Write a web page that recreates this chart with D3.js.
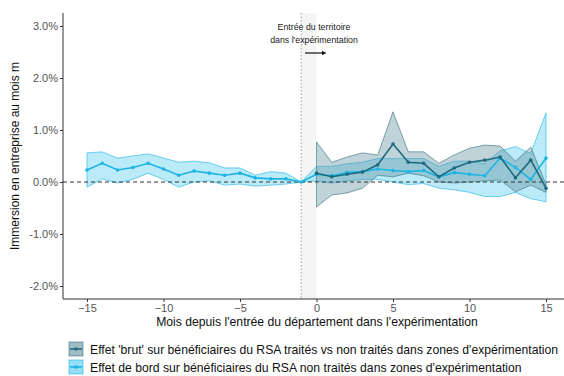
<!DOCTYPE html>
<html><head><meta charset="utf-8">
<script src="https://cdn.jsdelivr.net/npm/d3@7"></script>
<style>body{margin:0;background:#fff}svg{display:block}text{font-family:"Liberation Sans",Arial,sans-serif}</style>
</head><body><svg id="c" width="564" height="376"></svg>
<script>
const bordMonths = d3.range(-15, 16);
const bordValues = [0.23,0.36,0.23,0.28,0.36,0.25,0.13,0.21,0.17,0.13,0.17,0.08,0.06,0.06,0,
  0.15,0.12,0.18,0.2,0.25,0.22,0.2,0.22,0.1,0.18,0.15,0.12,0.46,0.28,0.05,0.46];
const bordUpper = [0.56,0.58,0.46,0.5,0.54,0.46,0.38,0.4,0.37,0.27,0.27,0.13,0.2,0.17,0,
  0.3,0.3,0.35,0.38,0.45,0.45,0.45,0.45,0.3,0.4,0.4,0.35,0.6,0.68,0.55,1.33];
const bordLower = [-0.1,0.06,-0.02,0.05,0.17,0.05,-0.1,0.0,0.02,-0.06,-0.04,-0.08,-0.06,-0.04,0,
  0.02,-0.02,0.02,0.05,0.05,0.0,-0.05,-0.03,-0.12,-0.15,-0.2,-0.28,-0.28,-0.2,-0.32,-0.38];

const brutMonths = d3.range(0, 16);
const brutValues = [0.17,0.1,0.15,0.19,0.33,0.73,0.38,0.36,0.1,0.27,0.38,0.42,0.48,0.08,0.42,-0.12];
const brutUpper = [0.77,0.38,0.48,0.56,0.52,1.35,0.58,0.58,0.36,0.52,0.65,0.71,0.69,0.4,0.67,-0.05];
const brutLower = [-0.48,-0.25,-0.21,-0.12,0.13,0.1,0.17,0.12,0.0,-0.02,0.0,0.02,0.04,-0.19,-0.06,-0.2];

const xTicks = [-15,-10,-5,0,5,10,15];
const yTicks = [-2,-1,0,1,2,3];
const legendLabels = ["Effet 'brut' sur bénéficiaires du RSA traités vs non traités dans zones d'expérimentation",
  "Effet de bord sur bénéficiaires du RSA non traités dans zones d'expérimentation"];

const svg = d3.select("#c");
const L = 63, B = 299, T = 13;
const x = d3.scaleLinear().domain([-16.5, 16.5]).range([64, 569]);
const y = d3.scaleLinear().domain([-2.25, 3.25]).range([B, T]);

// shaded entry band
svg.append("rect").attr("x", x(-1)).attr("y", T).attr("width", x(0) - x(-1)).attr("height", B - T)
  .attr("fill", "#f1f1f1").attr("opacity", 0.7);
// vertical dotted line
svg.append("line").attr("x1", x(-1)).attr("x2", x(-1)).attr("y1", T).attr("y2", B)
  .attr("stroke", "#888").attr("stroke-width", 0.8).attr("stroke-dasharray", "1.5,2");

const series = [
  {m: bordMonths, v: bordValues, u: bordUpper, l: bordLower, line: "#1cb4e2", fill: "#3cc3ee", fo: 0.35, edge: "#22b8e6"},
  {m: brutMonths, v: brutValues, u: brutUpper, l: brutLower, line: "#1d6a7e", fill: "#5a8c98", fo: 0.38, edge: "#3d7584"}
];
const area = d3.area().x(d => x(d.m)).y0(d => y(d.l)).y1(d => y(d.u));
const line = d3.line().x(d => x(d.m)).y(d => y(d.v));
series.forEach(s => {
  const data = s.m.map((m, i) => ({m, v: s.v[i], u: s.u[i], l: s.l[i]}));
  s.data = data;
  svg.append("path").datum(data).attr("d", area).attr("fill", s.fill).attr("fill-opacity", s.fo)
    .attr("stroke", s.edge).attr("stroke-width", 0.8).attr("stroke-opacity", 0.8);
});
// zero line
svg.append("line").attr("x1", L).attr("x2", 564).attr("y1", y(0)).attr("y2", y(0))
  .attr("stroke", "#333").attr("stroke-width", 1).attr("stroke-dasharray", "4,3");
series.forEach(s => {
  svg.append("path").datum(s.data).attr("d", line).attr("fill", "none").attr("stroke", s.line).attr("stroke-width", 1.6);
  svg.selectAll(null).data(s.data).enter().append("circle")
    .attr("cx", d => x(d.m)).attr("cy", d => y(d.v)).attr("r", 1.8).attr("fill", s.line);
});

// axes
const xa = svg.append("g").attr("transform", `translate(0,${B})`)
  .call(d3.axisBottom(x).tickValues(xTicks).tickSize(3).tickPadding(2).tickFormat(d3.format("d")));
const ya = svg.append("g").attr("transform", `translate(${L},0)`)
  .call(d3.axisLeft(y).tickValues(yTicks).tickSize(3).tickPadding(2).tickFormat(d => d.toFixed(1) + "%"));
[xa, ya].forEach(g => {
  g.select(".domain").attr("stroke", "#333").attr("stroke-width", 1);
  g.selectAll(".tick line").attr("stroke", "#333");
  g.selectAll(".tick text").attr("fill", "#555").attr("font-size", 11);
});
xa.select(".domain").attr("d", `M${L},0H564`);
ya.select(".domain").attr("d", `M0,${T}V${B}`);

svg.append("text").attr("x", 317).attr("y", 326).attr("text-anchor", "middle").attr("font-size", 12.2).attr("fill", "#111")
  .text("Mois depuis l'entrée du département dans l'expérimentation");
svg.append("text").attr("transform", "translate(19,156) rotate(-90)").attr("text-anchor", "middle")
  .attr("font-size", 12).attr("fill", "#111").text("Immersion en entreprise au mois m");

// annotation
svg.append("text").attr("x", 314).attr("y", 30).attr("text-anchor", "middle").attr("font-size", 8.8).attr("fill", "#222").text("Entrée du territoire");
svg.append("text").attr("x", 314).attr("y", 43).attr("text-anchor", "middle").attr("font-size", 8.8).attr("fill", "#222").text("dans l'expérimentation");
svg.append("defs").append("marker").attr("id", "ar").attr("viewBox", "0 0 10 10").attr("refX", 5).attr("refY", 5)
  .attr("markerWidth", 4).attr("markerHeight", 4).attr("orient", "auto")
  .append("path").attr("d", "M0,0L10,5L0,10z").attr("fill", "#111");
svg.append("line").attr("x1", 305).attr("x2", 324).attr("y1", 53).attr("y2", 53).attr("stroke", "#111").attr("stroke-width", 1.2)
  .attr("marker-end", "url(#ar)");

// legend
const legColors = [series[1], series[0]];
legendLabels.forEach((t, i) => {
  const g = svg.append("g").attr("transform", `translate(69,${342 + i * 18})`);
  g.append("rect").attr("width", 14).attr("height", 14).attr("fill", "#fff");
  g.append("rect").attr("width", 14).attr("height", 14).attr("fill", legColors[i].fill).attr("fill-opacity", legColors[i].fo + 0.2)
    .attr("stroke", legColors[i].edge).attr("stroke-width", 0.6);
  g.append("line").attr("x1", 1).attr("x2", 13).attr("y1", 7).attr("y2", 7).attr("stroke", legColors[i].line).attr("stroke-width", 1.6);
  g.append("circle").attr("cx", 7).attr("cy", 7).attr("r", 1.8).attr("fill", legColors[i].line);
  g.append("text").attr("x", 21).attr("y", 11.5).attr("font-size", 12.2).attr("fill", "#111").text(t);
});
</script></body></html>
